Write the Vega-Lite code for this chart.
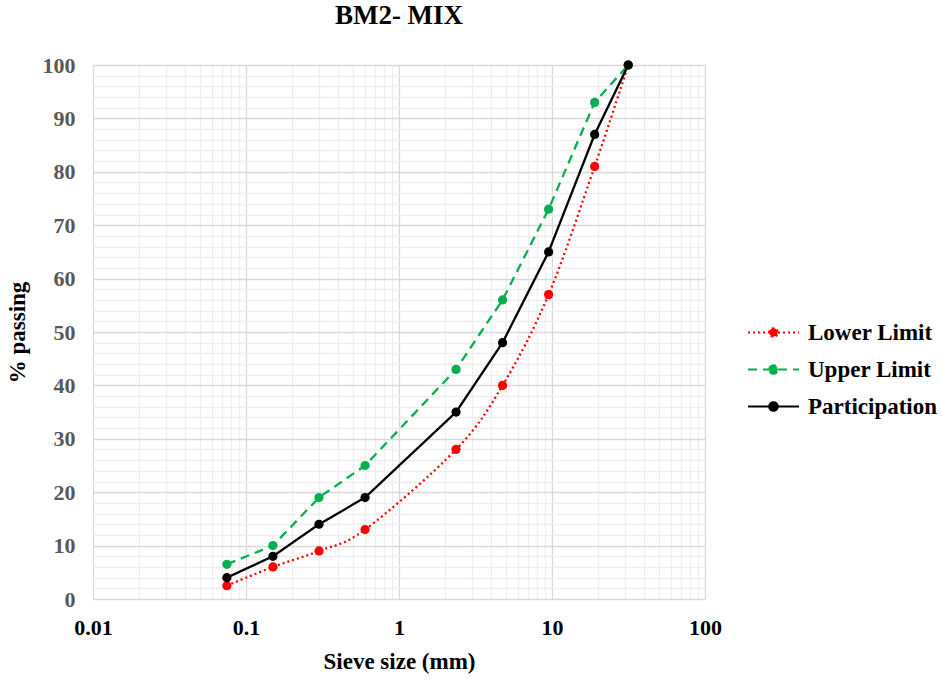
{
  "$schema": "https://vega.github.io/schema/vega-lite/v6.json",
  "width": 612,
  "height": 534,
  "autosize": {"type": "none"},
  "padding": {"left": 93, "top": 65, "right": 237, "bottom": 80},
  "background": "white",
  "title": {"text": "BM2- MIX", "font": "Liberation Serif", "fontSize": 27, "fontWeight": "bold", "color": "#000000", "anchor": "middle", "offset": 24},
  "config": {
    "view": {"stroke": "#d9d9d9", "strokeWidth": 1},
    "font": "Liberation Serif",
    "axis": {"domain": false, "ticks": false, "labelFont": "Liberation Serif", "titleFont": "Liberation Serif", "labelFontWeight": "bold", "titleFontWeight": "bold", "labelFontSize": 22, "titleFontSize": 23, "titleColor": "#000000"}
  },
  "data": {"values": [
    {"size": 0.075, "series": "Lower Limit", "pass": 2.5},
    {"size": 0.15, "series": "Lower Limit", "pass": 6},
    {"size": 0.3, "series": "Lower Limit", "pass": 9},
    {"size": 0.6, "series": "Lower Limit", "pass": 13},
    {"size": 2.36, "series": "Lower Limit", "pass": 28},
    {"size": 4.75, "series": "Lower Limit", "pass": 40},
    {"size": 9.5, "series": "Lower Limit", "pass": 57},
    {"size": 19, "series": "Lower Limit", "pass": 81},
    {"size": 31.5, "series": "Lower Limit", "pass": 100},
    {"size": 0.075, "series": "Upper Limit", "pass": 6.5},
    {"size": 0.15, "series": "Upper Limit", "pass": 10},
    {"size": 0.3, "series": "Upper Limit", "pass": 19},
    {"size": 0.6, "series": "Upper Limit", "pass": 25},
    {"size": 2.36, "series": "Upper Limit", "pass": 43},
    {"size": 4.75, "series": "Upper Limit", "pass": 56},
    {"size": 9.5, "series": "Upper Limit", "pass": 73},
    {"size": 19, "series": "Upper Limit", "pass": 93},
    {"size": 31.5, "series": "Upper Limit", "pass": 100},
    {"size": 0.075, "series": "Participation", "pass": 4},
    {"size": 0.15, "series": "Participation", "pass": 8},
    {"size": 0.3, "series": "Participation", "pass": 14},
    {"size": 0.6, "series": "Participation", "pass": 19},
    {"size": 2.36, "series": "Participation", "pass": 35},
    {"size": 4.75, "series": "Participation", "pass": 48},
    {"size": 9.5, "series": "Participation", "pass": 65},
    {"size": 19, "series": "Participation", "pass": 87},
    {"size": 31.5, "series": "Participation", "pass": 100}
  ]},
  "encoding": {
    "x": {"field": "size", "type": "quantitative",
      "scale": {"type": "log", "domain": [0.01, 100], "nice": false},
      "axis": {"title": "Sieve size (mm)", "titlePadding": 12,
        "values": [0.01,0.02,0.03,0.04,0.05,0.06,0.07,0.08,0.09,0.1,0.2,0.3,0.4,0.5,0.6,0.7,0.8,0.9,1,2,3,4,5,6,7,8,9,10,20,30,40,50,60,70,80,90,100],
        "labelExpr": "abs(log(datum.value)/LN10 - round(log(datum.value)/LN10)) < 1e-6 ? (datum.value < 1 ? format(datum.value, '') : format(datum.value, 'd')) : ''",
        "labelPadding": 18, "labelColor": "#000000", "labelFlush": false, "labelOverlap": false,
        "gridColor": {"condition": {"test": "abs(log(datum.value)/LN10 - round(log(datum.value)/LN10)) < 1e-6", "value": "#d9d9d9"}, "value": "#eeeeee"},
        "gridWidth": 1.3}},
    "y": {"field": "pass", "type": "quantitative",
      "scale": {"domain": [0, 100], "nice": false},
      "axis": {"title": "% passing", "titlePadding": 13,
        "values": [0,2,4,6,8,10,12,14,16,18,20,22,24,26,28,30,32,34,36,38,40,42,44,46,48,50,52,54,56,58,60,62,64,66,68,70,72,74,76,78,80,82,84,86,88,90,92,94,96,98,100],
        "labelExpr": "datum.value % 10 === 0 ? datum.label : ''",
        "labelPadding": 18, "labelColor": "#595959", "labelOverlap": false,
        "gridColor": {"condition": {"test": "datum.value % 10 === 0", "value": "#d9d9d9"}, "value": "#eeeeee"},
        "gridWidth": 1.3}},
    "color": {"field": "series", "type": "nominal",
      "scale": {"domain": ["Lower Limit", "Upper Limit", "Participation"], "range": ["#ff0000", "#00b050", "#000000"]},
      "legend": {"title": null, "orient": "none", "legendX": 664, "legendY": 251,
        "symbolType": "M-1.7,0H1.7M-0.28,0A0.28,0.28 0 1,1 0.28,0A0.28,0.28 0 1,1 -0.28,0Z",
        "symbolSize": 900, "symbolStrokeWidth": 2.2, "rowPadding": 8,
        "labelFont": "Liberation Serif", "labelFontWeight": "bold", "labelFontSize": 23, "labelColor": "#000000", "labelOffset": 18,
        "encode": {"symbols": {"update": {"fill": {"scale": "color", "field": "value"}}}}}},
    "strokeDash": {"field": "series", "type": "nominal",
      "scale": {"domain": ["Lower Limit", "Upper Limit", "Participation"], "range": [[2, 3], [9, 6], [1, 0]]},
      "legend": {"title": null}}
  },
  "layer": [
    {"transform": [{"filter": "datum.series === 'Lower Limit'"}],
     "mark": {"type": "line", "interpolate": "cardinal", "tension": 0, "strokeWidth": 2.3}},
    {"transform": [{"filter": "datum.series !== 'Lower Limit'"}],
     "mark": {"type": "line", "interpolate": "linear", "strokeWidth": 2.3}},
    {"mark": {"type": "point", "filled": true, "size": 85, "opacity": 1},
     "encoding": {"strokeDash": {"value": [1, 0]}}}
  ]
}
